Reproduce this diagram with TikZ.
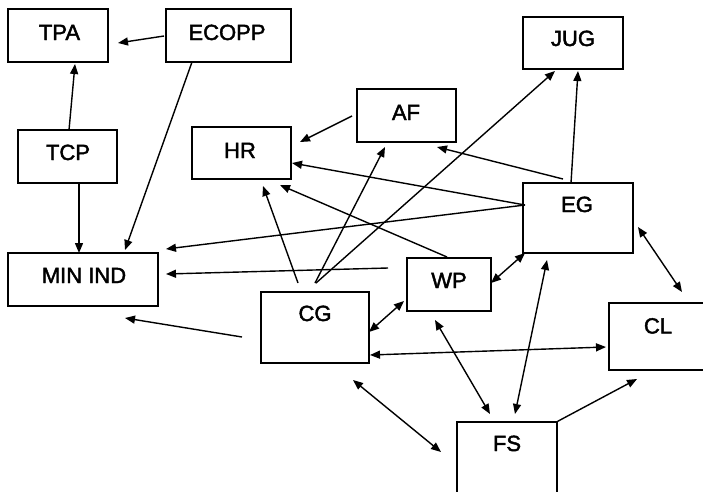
\documentclass[tikz,border=0pt]{standalone}
\usepackage{fontspec}
\setmainfont{Liberation Sans}
\newfontfamily\labfont[FakeBold=2]{Liberation Sans}
\usetikzlibrary{arrows.meta}
\begin{document}
\begin{tikzpicture}[x=1pt,y=-1pt,
  box/.style={draw,line width=1.4pt,rectangle,inner sep=0pt},
  txt/.style={anchor=base,inner sep=0pt,font=\labfont\fontsize{22}{25}\selectfont},
  con/.style={line width=1.4pt,-{Triangle[length=10pt,width=8pt]}},
  bicon/.style={line width=1.4pt,{Triangle[length=10pt,width=8pt]}-{Triangle[length=10pt,width=8pt]}}]
\useasboundingbox (0,0) rectangle (703,491);
\clip (0,0) rectangle (703,491);
% boxes
\node[box,minimum width=100,minimum height=53] (TPA) at (58,35.5) {};
\node[box,minimum width=125,minimum height=53] (ECOPP) at (228.5,35.5) {};
\node[box,minimum width=99,minimum height=53] (TCP) at (67.5,156.5) {};
\node[box,minimum width=99,minimum height=52] (HR) at (241.5,153) {};
\node[box,minimum width=99,minimum height=53] (AF) at (406.5,115.5) {};
\node[box,minimum width=100,minimum height=52] (JUG) at (573,43) {};
\node[box,minimum width=110,minimum height=70] (EG) at (578,218) {};
\node[box,minimum width=150,minimum height=53] (MIN) at (83,279.5) {};
\node[box,minimum width=84,minimum height=53] (WP) at (449,284.5) {};
\node[box,minimum width=108,minimum height=71] (CG) at (315,327.5) {};
\node[box,minimum width=120,minimum height=67] (CL) at (669,336.5) {};
\node[box,minimum width=100,minimum height=100] (FS) at (507,472) {};
% labels
\node[txt] (TPAt) at (59.5,40) {TPA};
\node[txt] (ECOPPt) at (227,40) {ECOPP};
\node[txt] (TCPt) at (68,160) {TCP};
\node[txt] (HRt) at (240,158) {HR};
\node[txt] (AFt) at (406,120) {AF};
\node[txt] (JUGt) at (573,46) {JUG};
\node[txt] (EGt) at (577,212) {EG};
\node[txt] (MINt) at (84,283) {MIN IND};
\node[txt] (WPt) at (449,288) {WP};
\node[txt] (CGt) at (315,321) {CG};
\node[txt] (CLt) at (658,333.5) {CL};
\node[txt] (FSt) at (507,451) {FS};
% free ends
\coordinate (a1) at (164,36);   \coordinate (a2) at (118,43);
\coordinate (b1) at (69,130);   \coordinate (b2) at (75,64);
\coordinate (c1) at (79,183);   \coordinate (c2) at (79,253);
\coordinate (d1) at (192,62);   \coordinate (d2) at (125,250);
\coordinate (e1) at (352,116);  \coordinate (e2) at (300,142);
\coordinate (f1) at (525,205);  \coordinate (f2) at (292,163);
\coordinate (g1) at (563,179);  \coordinate (g2) at (437,147);
\coordinate (h2) at (166,249);
\coordinate (i1) at (388,268);  \coordinate (i2) at (166,274);
\coordinate (j1) at (242,337);  \coordinate (j2) at (125,318);
\coordinate (k1) at (298,283);  \coordinate (k2) at (263,186);
\coordinate (l1) at (447,257);  \coordinate (l2) at (280,185);
\coordinate (m1) at (315,283);  \coordinate (m2) at (385,147);
\coordinate (n1) at (316,283);  \coordinate (n2) at (555,71);
\coordinate (o1) at (571,183);  \coordinate (o2) at (578,71);
\coordinate (p1) at (369,332);  \coordinate (p2) at (404,301);
\coordinate (q1) at (370,355);  \coordinate (q2) at (606,347);
\coordinate (r1) at (353,380);  \coordinate (r2) at (441,452);
\coordinate (s1) at (435,320);  \coordinate (s2) at (490,414);
\coordinate (t1) at (547,260);  \coordinate (t2) at (515,414);
\coordinate (u1) at (525,253);  \coordinate (u2) at (491,283);
\coordinate (v1) at (638,227);  \coordinate (v2) at (682,292);
\coordinate (w2) at (637,379);
% connectors
\draw[con] (a1) -- (a2);
\draw[con] (b1) -- (b2);
\draw[con] (c1) -- (c2);
\draw[con] (d1) -- (d2);
\draw[con] (e1) -- (e2);
\draw[con] (f1) -- (f2);
\draw[con] (g1) -- (g2);
\draw[con] (f1) -- (h2);
\draw[con] (i1) -- (i2);
\draw[con] (j1) -- (j2);
\draw[con] (k1) -- (k2);
\draw[con] (l1) -- (l2);
\draw[con] (m1) -- (m2);
\draw[con] (n1) -- (n2);
\draw[con] (o1) -- (o2);
\draw[bicon] (p1) -- (p2);
\draw[bicon] (q1) -- (q2);
\draw[bicon] (r1) -- (r2);
\draw[bicon] (s1) -- (s2);
\draw[bicon] (t1) -- (t2);
\draw[bicon] (u1) -- (u2);
\draw[bicon] (v1) -- (v2);
\draw[con] (FS.north east) -- (w2);
\end{tikzpicture}
\end{document}
